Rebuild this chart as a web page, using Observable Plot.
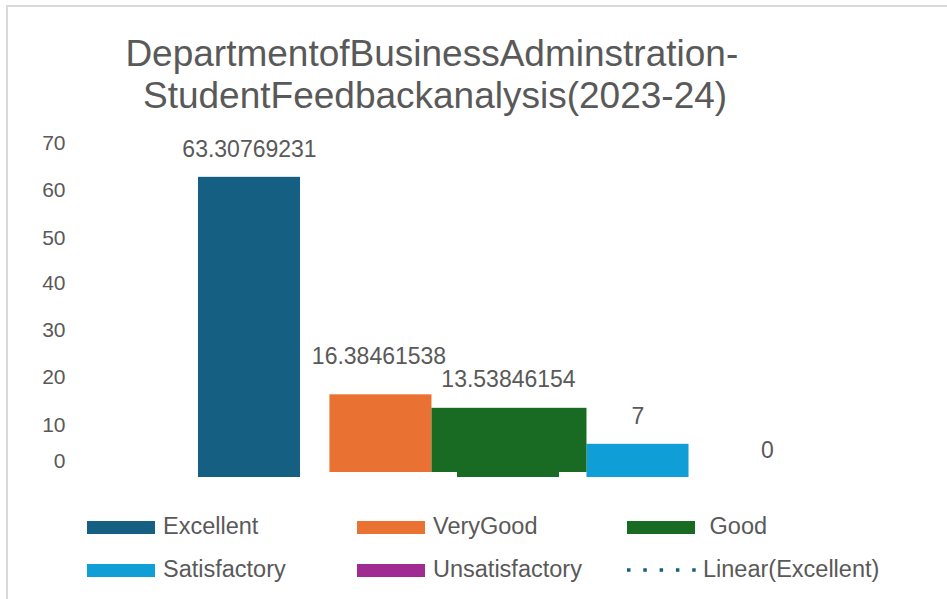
<!DOCTYPE html>
<html>
<head>
<meta charset="utf-8">
<script src="https://cdn.jsdelivr.net/npm/d3@7"></script>
<script src="https://cdn.jsdelivr.net/npm/@observablehq/plot@0.6"></script>
<style>
  html, body { margin: 0; padding: 0; background: #fff; }
  #wrap { position: relative; width: 947px; height: 599px; overflow: hidden; background: #fff;
          font-family: "Liberation Sans", Arial, sans-serif; color: #595959; }
  #frame { position: absolute; left: 6px; top: 5px; width: 960px; height: 620px;
           border-left: 2px solid #d9d9d9; border-top: 2px solid #d9d9d9; }
  .t { position: absolute; white-space: pre; line-height: 1; }
  .title { position: absolute; left: 0; top: 32.5px; font-size: 37px; line-height: 42px; white-space: pre; }
  .title span { display: block; height: 42px; }
  .leg { font-size: 23.5px; }
  .sw { position: absolute; width: 68px; height: 13px; }
  #chart { position: absolute; left: 0; top: 0; }
</style>
</head>
<body>
<div id="wrap">
  <div id="frame"></div>
  <div id="chart"></div>
</div>
<script>
// ---- data ----
const titleLines = ["DepartmentofBusinessAdminstration-", "StudentFeedbackanalysis(2023-24)"];
const categories = ["Excellent", "VeryGood", "Good", "Satisfactory", "Unsatisfactory"];
const values = [63.30769231, 16.38461538, 13.53846154, 7, 0];
const valueLabels = ["63.30769231", "16.38461538", "13.53846154", "7", "0"];
const yTicks = [0, 10, 20, 30, 40, 50, 60, 70];
const legendLabels = ["Excellent", "VeryGood", " Good", "Satisfactory", "Unsatisfactory", "Linear(Excellent)"];
const colors = ["#156082", "#E97132", "#196B24", "#0F9ED5", "#A02B93"];

// ---- layout / style ----
const W = 947, H = 500;
const mL = 184.25, mR = 115.25, mT = 145.1, mB = 23;
const hw = 0.394;       // half bar width in category units
const TXT = "#595959";
const FONT = '"Liberation Sans", Arial, sans-serif';

const data = categories.map((c, i) => ({c, i, v: values[i], label: valueLabels[i]}));
const iVG = categories.indexOf("VeryGood");
const iSat = categories.indexOf("Satisfactory");

const chart = Plot.plot({
  width: W, height: H,
  marginLeft: mL, marginRight: mR, marginTop: mT, marginBottom: mB,
  style: {fontFamily: FONT, color: TXT, background: "transparent", overflow: "visible"},
  x: {domain: [-0.5, categories.length - 0.5], axis: null},
  y: {domain: [0, 70]},
  color: {domain: categories, range: colors},
  marks: [
    Plot.axisY({ticks: yTicks.filter(t => t >= 50), tickSize: 0, tickPadding: mL - 65, fontSize: 21, label: null, dy: -2.5, fill: TXT}),
    Plot.axisY({ticks: yTicks.filter(t => t >= 10 && t < 50), tickSize: 0, tickPadding: mL - 65, fontSize: 21, label: null, dy: -5, fill: TXT}),
    Plot.axisY({ticks: yTicks.filter(t => t === 0), tickSize: 0, tickPadding: mL - 65, fontSize: 21, label: null, dy: -16, fill: TXT}),
    // bars at baseline
    Plot.rect(data.filter(d => d.c !== "VeryGood"), {x1: d => d.i - hw, x2: d => d.i + hw, y1: 0, y2: "v", fill: "c"}),
    // bars rendered slightly lifted (as in the original)
    Plot.rect(data.filter(d => d.c === "VeryGood"), {x1: d => d.i - hw + 0.015, x2: d => d.i + hw + 0.015, y1: 0, y2: "v", fill: "c", dy: -5}),
    Plot.rect(data.filter(d => d.c === "Good"), {x1: () => iVG + hw + 0.015, x2: () => iSat - hw, y1: 0, y2: "v", fill: "c", dy: -5}),
    // value labels
    Plot.text(data.filter(d => !["VeryGood", "Good"].includes(d.c)), {x: "i", y: "v", text: "label", lineAnchor: "bottom", dy: -20, fontSize: 23, fill: TXT}),
    Plot.text(data.filter(d => d.c === "VeryGood"), {x: "i", y: "v", text: "label", lineAnchor: "bottom", dy: -36, fontSize: 23, fill: TXT}),
    Plot.text(data.filter(d => d.c === "Good"), {x: "i", y: "v", text: "label", lineAnchor: "bottom", dy: -26, fontSize: 23, fill: TXT})
  ]
});
document.getElementById("chart").appendChild(chart);

const wrap = document.getElementById("wrap");
function addText(str, cls, left, top) {
  const s = document.createElement("div");
  s.className = "t " + cls;
  s.textContent = str;
  s.style.left = left + "px";
  s.style.top = top + "px";
  wrap.appendChild(s);
  return s;
}
// title (two lines, Excel-style wrapped)
const title = document.createElement("div");
title.className = "title";
const titleIndent = [125.4, 143];
titleLines.forEach((line, k) => {
  const sp = document.createElement("span");
  sp.textContent = line;
  sp.style.marginLeft = titleIndent[k] + "px";
  title.appendChild(sp);
});
wrap.appendChild(title);

// legend
const colX = [87, 357, 627];
const rowSw = [521, 564];
const rowTxt = [515, 558];
const txtX = [163, 433, 703];
legendLabels.forEach((lab, k) => {
  const col = k % 3, row = Math.floor(k / 3);
  if (k < 5) {
    const sw = document.createElement("div");
    sw.className = "sw";
    sw.style.left = colX[col] + "px";
    sw.style.top = rowSw[row] + "px";
    sw.style.background = colors[k];
    wrap.appendChild(sw);
  } else {
    const ns = "http://www.w3.org/2000/svg";
    const svg = document.createElementNS(ns, "svg");
    svg.setAttribute("width", 72); svg.setAttribute("height", 8);
    svg.style.position = "absolute";
    svg.style.left = colX[col] + "px";
    svg.style.top = (rowSw[row] + 2) + "px";
    const ln = document.createElementNS(ns, "line");
    ln.setAttribute("x1", 0); ln.setAttribute("x2", 70);
    ln.setAttribute("y1", 4); ln.setAttribute("y2", 4);
    ln.setAttribute("stroke", colors[0]);
    ln.setAttribute("stroke-width", 3.5);
    ln.setAttribute("stroke-dasharray", "3.5 12.8");
    svg.appendChild(ln);
    wrap.appendChild(svg);
  }
  addText(lab, "leg", txtX[col], rowTxt[row]);
});
</script>
</body>
</html>
